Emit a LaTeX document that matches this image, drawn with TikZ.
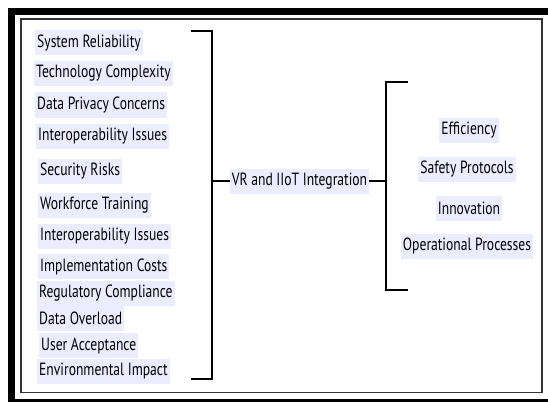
\documentclass[tikz,border=0pt]{standalone}
\usepackage{fontspec}
\setmainfont{PT Sans}
\usepackage{xcolor}
\usetikzlibrary{positioning}

\definecolor{boxfill}{HTML}{ECECFF}
\newcommand{\tall}[1]{\scalebox{1}[1.3]{#1}}

\begin{document}
\begin{tikzpicture}[x=1pt,y=-1pt,
        item/.style={fill=boxfill,inner xsep=2pt,inner ysep=0pt,minimum height=25pt,font=\fontsize{13.6}{16}\selectfont},
        brace/.style={line width=1.6pt,draw=black}]
        \useasboundingbox (0,0) rectangle (548,401);

        %frame
        \draw[line width=7pt] (11.5,11.5) rectangle (552,402);
        \draw[line width=1.5pt,draw=black!80] (21,19) rectangle (542,392.5);

        %nodes
        \begin{scope}[every node/.style={item,anchor=west}]
            \node (reliab) at (35,43) {\tall{System Reliability}};
            \node (complex) at (34,73.5) {\tall{Technology Complexity}};
            \node (privacy) at (35,105) {\tall{Data Privacy Concerns}};
            \node (interopA) at (36,136.5) {\tall{Interoperability Issues}};
            \node (security) at (38,171) {\tall{Security Risks}};
            \node (training) at (38,205) {\tall{Workforce Training}};
            \node (interopB) at (38,236.5) {\tall{Interoperability Issues}};
            \node (costs) at (38,266.5) {\tall{Implementation Costs}};
            \node (regul) at (37,293.5) {\tall{Regulatory Compliance}};
            \node (overload) at (37,318.5) {\tall{Data Overload}};
            \node (accept) at (39,345.5) {\tall{User Acceptance}};
            \node (environ) at (37,371.5) {\tall{Environmental Impact}};
        \end{scope}

        \node[item] (hub) at (299.5,181) {\tall{VR and IIoT Integration}};

        \begin{scope}[every node/.style={item}]
            \node (effic) at (469,130.5) {\tall{Efficiency}};
            \node (safety) at (467,169.5) {\tall{Safety Protocols}};
            \node (innov) at (469,208.5) {\tall{Innovation}};
            \node (operat) at (467,246) {\tall{Operational Processes}};
        \end{scope}

        %brackets
        \coordinate (lt) at (191,31);
        \coordinate (lb) at (191,379);
        \coordinate (lm) at (212,181);
        \draw[brace] (lt) -| (lm) |- (lb);
        \draw[brace] (lm) -- (hub.west);

        \coordinate (rt) at (408,82);
        \coordinate (rb) at (408,290);
        \coordinate (rm) at (386,181);
        \draw[brace] (rt) -| (rm) |- (rb);
        \draw[brace] (hub.east) -- (rm);
\end{tikzpicture}
\end{document}
